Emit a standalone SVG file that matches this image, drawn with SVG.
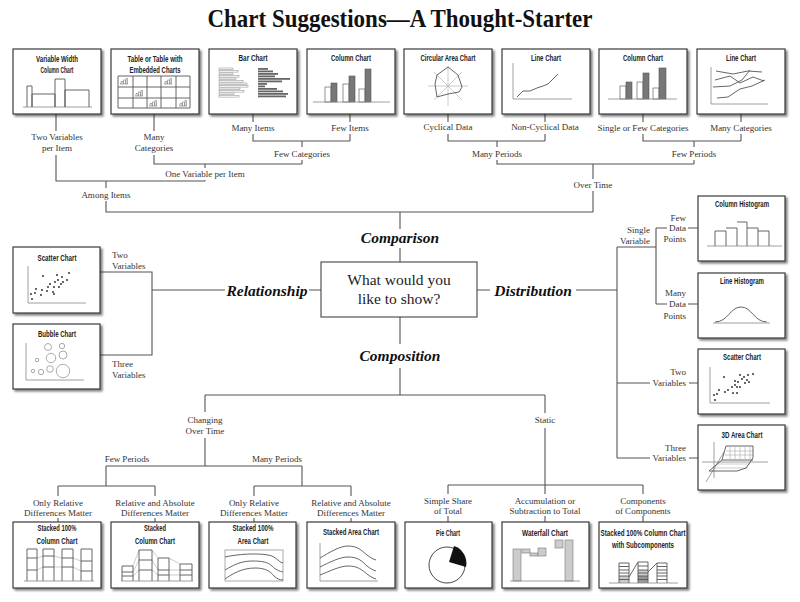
<svg xmlns="http://www.w3.org/2000/svg" xmlns:xlink="http://www.w3.org/1999/xlink" width="800" height="602" viewBox="0 0 800 602">
<defs>
<filter id="sh" x="-10%" y="-10%" width="130%" height="130%">
<feDropShadow dx="2" dy="2" stdDeviation="0.9" flood-color="#000" flood-opacity="0.5"/>
</filter>
<g id="mini"><path d="M0,6 H8 M1,6 V3.5 H3 V6 M3.5,6 V2 H5.5 V6 M6,6 V0.5 H7.5 V6" fill="none" stroke="#777" stroke-width="0.6"/></g>
<style>
.box{fill:#fff;stroke:#3a3a3a;stroke-width:1.2;filter:url(#sh)}
.ttl{font-family:"Liberation Sans",Arial,sans-serif;font-weight:bold;font-size:8.5px;fill:#222;text-anchor:middle}
.lbl{font-family:"Liberation Serif","Times New Roman",serif;font-size:9px;fill:#333;text-anchor:middle}
.lbe{font-family:"Liberation Serif","Times New Roman",serif;font-size:9px;fill:#333;text-anchor:end}
.lbs{font-family:"Liberation Serif","Times New Roman",serif;font-size:9px;fill:#333;text-anchor:start}
.cat{font-family:"Liberation Serif","Times New Roman",serif;font-weight:bold;font-style:italic;font-size:15.5px;fill:#111;text-anchor:middle}
.conn{stroke:#555;stroke-width:1.1;fill:none}
.ax{stroke:#888;stroke-width:0.8;fill:none}
.ln{stroke:#555;stroke-width:0.9;fill:none}
.lt{stroke:#aaa;stroke-width:0.6;fill:none}
.gb{fill:#777;stroke:#555;stroke-width:0.6}
.wb{fill:#fff;stroke:#666;stroke-width:0.7}
.lb{fill:#ccc;stroke:#777;stroke-width:0.6}
.dot{fill:#222}
</style>
</defs>
<rect width="800" height="602" fill="#fff"/>
<text x="400" y="27" font-family="'Liberation Serif','Times New Roman',serif" font-weight="bold" font-size="25" fill="#111" text-anchor="middle" textLength="385" lengthAdjust="spacingAndGlyphs">Chart Suggestions—A Thought-Starter</text>

<g id="connectors" class="conn">
<path d="M56,114 V131 M56,155 V181 H205 M154,114 V131 M154,155 V164 H302 M253,114 V122 M253,134 V141 H350 M350,114 V122 M350,134 V141 M302,141 V147 M302,160 V164 M205,164 V168 M205,180 V181 M106,181 V188 M106,201 V212 H593 M448,114 V122 M448,134 V141 H545 M545,114 V122 M545,134 V141 M643,114 V122 M643,134 V141 H741 M741,114 V122 M741,134 V141 M497,141 V147 M497,160 V164 H694 M694,141 V147 M694,160 V164 M593,164 V179 M593,191 V212 M400,212 V229 M400,248 V262 M400,317 V344 M400,368 V395 M205,395 H545 M205,395 V412 M205,438 V466 M106,466 H302 M106,466 V486 M302,466 V486 M58,486 H155 M254,486 H351 M58,486 V496 M155,486 V496 M254,486 V496 M351,486 V496 M58,518 V522 M155,518 V522 M254,518 V522 M351,518 V522 M545,395 V413 M545,428 V485 M448,485 H643 M448,485 V494 M545,485 V494 M643,485 V494 M448,516 V522 M545,516 V522 M643,516 V522 M100,272 H152 V355 H100 M152,290 H225 M309,290 H321 M477,290 H490 M576,290 H617 M617,247 V458 M617,247 H656 M656,228 V304 M656,228 H667 M688,228 H698 M656,304 H667 M688,304 H698 M617,383 H650 M689,383 H698 M617,458 H650 M689,458 H698"/>
</g>

<g id="connector-labels">
<text class="lbl" x="57" y="140">Two Variables</text>
<text class="lbl" x="57" y="151">per Item</text>
<text class="lbl" x="154" y="140">Many</text>
<text class="lbl" x="154" y="151">Categories</text>
<text class="lbl" x="253" y="131">Many Items</text>
<text class="lbl" x="350" y="131">Few Items</text>
<text class="lbl" x="302" y="157">Few Categories</text>
<text class="lbl" x="205" y="177">One Variable per Item</text>
<text class="lbl" x="106" y="198">Among Items</text>
<text class="lbl" x="448" y="130">Cyclical Data</text>
<text class="lbl" x="545" y="130">Non-Cyclical Data</text>
<text class="lbl" x="643" y="131">Single or Few Categories</text>
<text class="lbl" x="741" y="131">Many Categories</text>
<text class="lbl" x="497" y="157">Many Periods</text>
<text class="lbl" x="694" y="157">Few Periods</text>
<text class="lbl" x="593" y="188">Over Time</text>
<text class="lbs" x="112" y="258">Two</text>
<text class="lbs" x="112" y="269">Variables</text>
<text class="lbs" x="112" y="367">Three</text>
<text class="lbs" x="112" y="378">Variables</text>
<text class="lbe" x="650" y="233">Single</text>
<text class="lbe" x="650" y="244">Variable</text>
<text class="lbe" x="686" y="221">Few</text>
<text class="lbe" x="686" y="231">Data</text>
<text class="lbe" x="686" y="242">Points</text>
<text class="lbe" x="686" y="296">Many</text>
<text class="lbe" x="686" y="307">Data</text>
<text class="lbe" x="686" y="319">Points</text>
<text class="lbe" x="686" y="375">Two</text>
<text class="lbe" x="686" y="386">Variables</text>
<text class="lbe" x="686" y="451">Three</text>
<text class="lbe" x="686" y="461">Variables</text>
<text class="lbl" x="205" y="423">Changing</text>
<text class="lbl" x="205" y="434">Over Time</text>
<text class="lbl" x="545" y="423">Static</text>
<text class="lbl" x="127" y="462">Few Periods</text>
<text class="lbl" x="277" y="462">Many Periods</text>
<text class="lbl" x="58" y="506">Only Relative</text>
<text class="lbl" x="58" y="516">Differences Matter</text>
<text class="lbl" x="155" y="506">Relative and Absolute</text>
<text class="lbl" x="155" y="516">Differences Matter</text>
<text class="lbl" x="254" y="506">Only Relative</text>
<text class="lbl" x="254" y="516">Differences Matter</text>
<text class="lbl" x="351" y="506">Relative and Absolute</text>
<text class="lbl" x="351" y="516">Differences Matter</text>
<text class="lbl" x="448" y="504">Simple Share</text>
<text class="lbl" x="448" y="514">of Total</text>
<text class="lbl" x="545" y="504">Accumulation or</text>
<text class="lbl" x="545" y="514">Subtraction to Total</text>
<text class="lbl" x="643" y="504">Components</text>
<text class="lbl" x="643" y="514">of Components</text>
</g>

<g id="center">
<rect x="321" y="262" width="156" height="55" fill="#fff" stroke="#444" stroke-width="1.1"/>
<text x="399" y="285" font-family="'Liberation Serif','Times New Roman',serif" font-size="15.5" fill="#222" text-anchor="middle">What would you</text>
<text x="399" y="304" font-family="'Liberation Serif','Times New Roman',serif" font-size="15.5" fill="#222" text-anchor="middle">like to show?</text>
</g>
<g id="cat-comparison"><text class="cat" x="400" y="243">Comparison</text></g>
<g id="cat-composition"><text class="cat" x="400" y="361">Composition</text></g>
<g id="cat-relationship"><text class="cat" x="267" y="296">Relationship</text></g>
<g id="cat-distribution"><text class="cat" x="533" y="296">Distribution</text></g>

<g id="variable-width-column">
<rect class="box" x="13" y="49" width="88" height="65"/>
<text class="ttl" x="57" y="62" textLength="42" lengthAdjust="spacingAndGlyphs">Variable Width</text>
<text class="ttl" x="57" y="73" textLength="33" lengthAdjust="spacingAndGlyphs">Column Chart</text>
<path class="ax" d="M23,107 H92"/>
<path class="ln" d="M27,107 V86 H32 V107 M32,107 V94 H55 V107 M55,107 V79 H65 V107 M65,107 V90 H89 V107"/>
</g>

<g id="table-embedded">
<rect class="box" x="111" y="49" width="88" height="65"/>
<text class="ttl" x="155" y="62" textLength="55" lengthAdjust="spacingAndGlyphs">Table or Table with</text>
<text class="ttl" x="155" y="73" textLength="51" lengthAdjust="spacingAndGlyphs">Embedded Charts</text>
<path class="ln" d="M118,76 H190 V108 H118 Z M118,87 H190 M118,98 H190 M133,76 V108 M147,76 V108 M161,76 V108 M176,76 V108" stroke="#777" stroke-width="0.7"/>
<use xlink:href="#mini" x="120" y="78"/>
<use xlink:href="#mini" x="135" y="90"/>
<use xlink:href="#mini" x="149" y="100"/>
<use xlink:href="#mini" x="164" y="78"/>
<use xlink:href="#mini" x="179" y="100"/>
</g>

<g id="bar-chart">
<rect class="box" x="209" y="49" width="88" height="65"/>
<text class="ttl" x="253" y="61" textLength="29" lengthAdjust="spacingAndGlyphs">Bar Chart</text>
<g fill="#fff" stroke="#888" stroke-width="0.5">
<rect x="219" y="68" width="14" height="1.6"/><rect x="219" y="70.5" width="19" height="1.6"/><rect x="219" y="73" width="14" height="1.6"/><rect x="219" y="75.5" width="20" height="1.6"/><rect x="219" y="78" width="17" height="1.6"/><rect x="219" y="80.5" width="24" height="1.6"/><rect x="219" y="83" width="28" height="1.6"/><rect x="219" y="85.5" width="29" height="1.6"/><rect x="219" y="88" width="21" height="1.6"/><rect x="219" y="90.5" width="25" height="1.6"/><rect x="219" y="93" width="15" height="1.6"/><rect x="219" y="95.5" width="20" height="1.6"/>
</g>
<g fill="#666">
<rect x="258" y="68" width="10" height="1.8"/><rect x="258" y="70.5" width="15" height="1.8"/><rect x="258" y="73" width="20" height="1.8"/><rect x="258" y="75.5" width="17" height="1.8"/><rect x="258" y="78" width="32" height="1.8"/><rect x="258" y="80.5" width="24" height="1.8"/><rect x="258" y="83" width="9" height="1.8"/><rect x="258" y="85.5" width="7" height="1.8"/><rect x="258" y="88" width="19" height="1.8"/><rect x="258" y="90.5" width="25" height="1.8"/><rect x="258" y="93" width="30" height="1.8"/><rect x="258" y="95.5" width="28" height="1.8"/>
</g>
</g>

<g id="column-chart-1">
<rect class="box" x="307" y="49" width="88" height="65"/>
<text class="ttl" x="351" y="61" textLength="40" lengthAdjust="spacingAndGlyphs">Column Chart</text>
<rect class="wb" x="325" y="87" width="6" height="15"/><rect class="gb" x="331" y="83" width="6" height="19"/>
<rect class="wb" x="343" y="84" width="6" height="18"/><rect class="gb" x="349" y="76" width="6" height="26"/>
<rect class="wb" x="359" y="89" width="6" height="13"/><rect class="gb" x="365" y="69" width="6" height="33"/>
<path class="ax" d="M313,102 H390"/>
</g>

<g id="circular-area">
<rect class="box" x="404" y="49" width="88" height="65"/>
<text class="ttl" x="448" y="61" textLength="55" lengthAdjust="spacingAndGlyphs">Circular Area Chart</text>
<path class="lt" d="M428,86 H468 M448,66 V106 M434,72 L462,100 M462,72 L434,100"/>
<path class="ln" d="M437,75 L448,67 L458,75 L462,87 L459,92 L448,94 L437,97 L435,84 Z"/>
</g>

<g id="line-chart-1">
<rect class="box" x="502" y="49" width="88" height="65"/>
<text class="ttl" x="546" y="61" textLength="30" lengthAdjust="spacingAndGlyphs">Line Chart</text>
<path class="ax" d="M513,63 V99 H572"/>
<path class="ln" d="M517,97 L523,91 L530,91 L537,88 L543,86 L548,84 L558,74"/>
</g>

<g id="column-chart-2">
<rect class="box" x="599" y="49" width="88" height="65"/>
<text class="ttl" x="643" y="61" textLength="40" lengthAdjust="spacingAndGlyphs">Column Chart</text>
<rect class="wb" x="620" y="86" width="6" height="13"/><rect class="gb" x="626" y="82" width="6" height="17"/>
<rect class="wb" x="637" y="82" width="6" height="17"/><rect class="gb" x="643" y="73" width="6" height="26"/>
<rect class="wb" x="653" y="88" width="6" height="11"/><rect class="gb" x="659" y="68" width="7" height="31"/>
<path class="ax" d="M608,99 H677"/>
</g>

<g id="line-chart-2">
<rect class="box" x="697" y="49" width="88" height="65"/>
<text class="ttl" x="741" y="61" textLength="30" lengthAdjust="spacingAndGlyphs">Line Chart</text>
<path class="ax" d="M711,67 V104 H768"/>
<path class="ln" d="M716,71 L733,74 L748,71 L762,72 M715,80 L730,76 L740,83 L753,77 L764,81 M713,87 L730,86 L742,80 L750,70 M717,98 L728,97 L740,89 L752,86 L765,80"/>
</g>

<g id="scatter-left">
<rect class="box" x="13" y="247" width="87" height="66"/>
<text class="ttl" x="57" y="261" textLength="39" lengthAdjust="spacingAndGlyphs">Scatter Chart</text>
<path class="ax" d="M28,266 V303 H86"/>
<g class="dot">
<circle cx="32" cy="299" r="0.9"/><circle cx="31" cy="294" r="0.9"/><circle cx="35" cy="293" r="0.9"/><circle cx="36" cy="289" r="0.9"/><circle cx="42" cy="290" r="0.9"/><circle cx="41" cy="295" r="0.9"/><circle cx="43" cy="276" r="0.9"/><circle cx="47" cy="291" r="0.9"/><circle cx="48" cy="287" r="0.9"/><circle cx="50" cy="284" r="0.9"/><circle cx="53" cy="292" r="0.9"/><circle cx="54" cy="287" r="0.9"/><circle cx="55" cy="282" r="0.9"/><circle cx="57" cy="275" r="0.9"/><circle cx="58" cy="280" r="0.9"/><circle cx="61" cy="284" r="0.9"/><circle cx="62" cy="277" r="0.9"/><circle cx="63" cy="282" r="0.9"/><circle cx="67" cy="280" r="0.9"/><circle cx="69" cy="273" r="0.9"/><circle cx="54" cy="294" r="0.9"/><circle cx="59" cy="287" r="0.9"/>
</g>
</g>

<g id="bubble-chart">
<rect class="box" x="13" y="324" width="87" height="65"/>
<text class="ttl" x="57" y="337" textLength="38" lengthAdjust="spacingAndGlyphs">Bubble Chart</text>
<path class="ax" d="M26,343 V380 H84"/>
<g fill="none" stroke="#888" stroke-width="0.7">
<circle cx="48" cy="347" r="3.5"/><circle cx="62" cy="346" r="2.7"/><circle cx="51" cy="358" r="4.7"/><circle cx="63" cy="355" r="4"/><circle cx="37" cy="360" r="1.7"/><circle cx="33" cy="371" r="1.7"/><circle cx="41" cy="372" r="2.7"/><circle cx="50" cy="369" r="3.3"/><circle cx="63" cy="371" r="6.7"/>
</g>
</g>

<g id="column-histogram">
<rect class="box" x="698" y="196" width="87" height="65"/>
<text class="ttl" x="742" y="207" textLength="54" lengthAdjust="spacingAndGlyphs">Column Histogram</text>
<path class="ln" stroke="#777" d="M715,246 V231 H726 V246 M726,228 H737 V246 M737,222 H747 V246 M747,228 H758 V246 M758,231 H769 V246"/>
<path class="ax" d="M707,246 H782"/>
</g>

<g id="line-histogram">
<rect class="box" x="698" y="273" width="87" height="65"/>
<text class="ttl" x="742" y="284" textLength="44" lengthAdjust="spacingAndGlyphs">Line Histogram</text>
<path class="ax" d="M713,323 H770"/>
<path class="ln" d="M715,322 C728,322 730,307 741,307 C752,307 754,322 767,322"/>
</g>

<g id="scatter-right">
<rect class="box" x="698" y="349" width="87" height="65"/>
<text class="ttl" x="742" y="360" textLength="38" lengthAdjust="spacingAndGlyphs">Scatter Chart</text>
<path class="ax" d="M710,367 V403 H770"/>
<g class="dot">
<circle cx="715" cy="400" r="0.9"/><circle cx="714" cy="395" r="0.9"/><circle cx="717" cy="394" r="0.9"/><circle cx="719" cy="390" r="0.9"/><circle cx="725" cy="392" r="0.9"/><circle cx="724" cy="377" r="0.9"/><circle cx="728" cy="390" r="0.9"/><circle cx="732" cy="387" r="0.9"/><circle cx="735" cy="385" r="0.9"/><circle cx="733" cy="393" r="0.9"/><circle cx="737" cy="393" r="0.9"/><circle cx="735" cy="381" r="0.9"/><circle cx="738" cy="382" r="0.9"/><circle cx="740" cy="375" r="0.9"/><circle cx="742" cy="379" r="0.9"/><circle cx="744" cy="377" r="0.9"/><circle cx="745" cy="383" r="0.9"/><circle cx="747" cy="380" r="0.9"/><circle cx="748" cy="375" r="0.9"/><circle cx="749" cy="382" r="0.9"/><circle cx="753" cy="374" r="0.9"/><circle cx="740" cy="387" r="0.9"/><circle cx="737" cy="387" r="0.9"/>
</g>
</g>

<g id="area-3d">
<rect class="box" x="698" y="425" width="87" height="65"/>
<text class="ttl" x="742" y="438" textLength="41" lengthAdjust="spacingAndGlyphs">3D Area Chart</text>
<path class="ax" d="M714,442 V478 M702,462 H768 M724,452 L706,482"/>
<path class="lt" d="M730,447 V459 M735,447 V459 M740,447 V459 M745,447 V459 M750,447 V459 M726,451 H753 M725,455 H753 M716,464 H750 M712,468 H748"/>
<path class="ln" d="M709,471 L722,460 L726,446 H753 V458 L746,468 L737,471 Z M722,460 H753"/>
</g>

<g id="stacked-100-column">
<rect class="box" x="13" y="522" width="88" height="66"/>
<text class="ttl" x="57" y="531" textLength="39" lengthAdjust="spacingAndGlyphs">Stacked 100%</text>
<text class="ttl" x="57" y="544" textLength="41" lengthAdjust="spacingAndGlyphs">Column Chart</text>
<path class="lt" d="M37,558 L43,556 M37,570 L43,567 M54,556 L62,558 M54,567 L62,567 M73,558 L81,561 M73,567 L81,571"/>
<path class="ln" stroke="#666" d="M27,581 V549 H37 V581 M27,558 H37 M27,570 H37 M43,581 V549 H54 V581 M43,556 H54 M43,567 H54 M62,581 V549 H73 V581 M62,558 H73 M62,567 H73 M81,581 V549 H92 V581 M81,561 H92 M81,571 H92"/>
<path class="ax" d="M24,581 H94" stroke="#555"/>
</g>

<g id="stacked-column">
<rect class="box" x="111" y="522" width="88" height="66"/>
<text class="ttl" x="155" y="531" textLength="22" lengthAdjust="spacingAndGlyphs">Stacked</text>
<text class="ttl" x="155" y="544" textLength="40" lengthAdjust="spacingAndGlyphs">Column Chart</text>
<path class="lt" d="M133,566 L139,550 M133,572 L139,560 M133,576 L139,570 M152,550 L158,558 M152,560 L158,570 M152,570 L158,575 M169,558 L180,564 M169,570 L180,570 M169,575 L180,575"/>
<path class="ln" stroke="#666" d="M122,581 V566 H133 V581 M122,572 H133 M122,576 H133 M139,581 V550 H152 V581 M139,560 H152 M139,570 H152 M158,581 V558 H169 V581 M158,570 H169 M158,575 H169 M180,581 V564 H192 V581 M180,570 H192 M180,575 H192"/>
<path class="ax" d="M121,581 H193" stroke="#555"/>
</g>

<g id="stacked-100-area">
<rect class="box" x="209" y="522" width="87" height="66"/>
<text class="ttl" x="253" y="531" textLength="41" lengthAdjust="spacingAndGlyphs">Stacked 100%</text>
<text class="ttl" x="253" y="544" textLength="31" lengthAdjust="spacingAndGlyphs">Area Chart</text>
<rect x="225" y="550" width="58" height="31" fill="none" stroke="#888" stroke-width="0.7"/>
<path class="ln" d="M225,557 C238,554 258,553 268,555 C276,556 278,562 283,563 M225,570 C232,566 240,561 252,561 C262,561 268,562 272,566 C276,570 279,571 283,572 M225,579 C232,574 242,568 255,568 C265,568 270,571 274,576 C277,579 280,580 283,580"/>
</g>

<g id="stacked-area">
<rect class="box" x="307" y="522" width="88" height="66"/>
<text class="ttl" x="351" y="535" textLength="56" lengthAdjust="spacingAndGlyphs">Stacked Area Chart</text>
<path class="ax" d="M320,543 V581 H378"/>
<path class="ln" d="M320,558 C330,552 340,546 348,546 C358,546 362,551 367,555 C371,558 373,559 376,560 M320,567 C330,562 340,557 348,557 C358,557 362,561 367,566 C371,569 373,570 376,571 M320,575 C330,571 340,566 348,566 C358,566 362,570 367,574 C371,577 373,578 376,579"/>
</g>

<g id="pie-chart">
<rect class="box" x="405" y="522" width="87" height="66"/>
<text class="ttl" x="448" y="536" textLength="24" lengthAdjust="spacingAndGlyphs">Pie Chart</text>
<circle cx="447" cy="565" r="18" fill="#fff" stroke="#333" stroke-width="0.9"/>
<path d="M449,562 L454,546 A18,18 0 0 1 466,567 Z" fill="#111"/>
</g>

<g id="waterfall-chart">
<rect class="box" x="502" y="522" width="87" height="66"/>
<text class="ttl" x="545" y="536" textLength="46" lengthAdjust="spacingAndGlyphs">Waterfall Chart</text>
<rect class="lb" x="513" y="549" width="8" height="32"/>
<rect class="lb" x="522" y="549" width="8" height="4"/>
<rect class="lb" x="530" y="553" width="8" height="3"/>
<rect class="lb" x="538" y="548" width="8" height="8"/>
<rect class="lb" x="555" y="540" width="8" height="8"/>
<rect class="lb" x="565" y="540" width="8" height="41"/>
<path class="ax" d="M510,581 H580" stroke="#555"/>
</g>

<g id="stacked-100-subcomponents">
<rect class="box" x="599" y="522" width="88" height="66"/>
<text class="ttl" x="643" y="536" textLength="85" lengthAdjust="spacingAndGlyphs">Stacked 100% Column Chart</text>
<text class="ttl" x="643" y="548" textLength="62" lengthAdjust="spacingAndGlyphs">with Subcomponents</text>
<rect x="619" y="576" width="10" height="7" fill="#ccc"/>
<rect x="638" y="570" width="10" height="6" fill="#ccc"/>
<rect x="638" y="576" width="10" height="7" fill="#999"/>
<path class="ln" stroke="#777" stroke-width="0.6" d="M619,583 V563 H629 V583 M619,566.5 H629 M619,570 H629 M619,573 H629 M619,576 H629 M619,579.5 H629 M638,583 V562 H648 V583 M638,566 H648 M638,570 H648 M638,573 H648 M638,576 H648 M638,579.5 H648 M657,583 V563 H667 V583 M657,566.5 H667 M657,570 H667 M657,573 H667 M657,576 H667 M657,579.5 H667 M629,577 L638,562 M648,572 L657,563"/>
<path class="ax" d="M609,583 H678" stroke="#555"/>
</g>
</svg>
